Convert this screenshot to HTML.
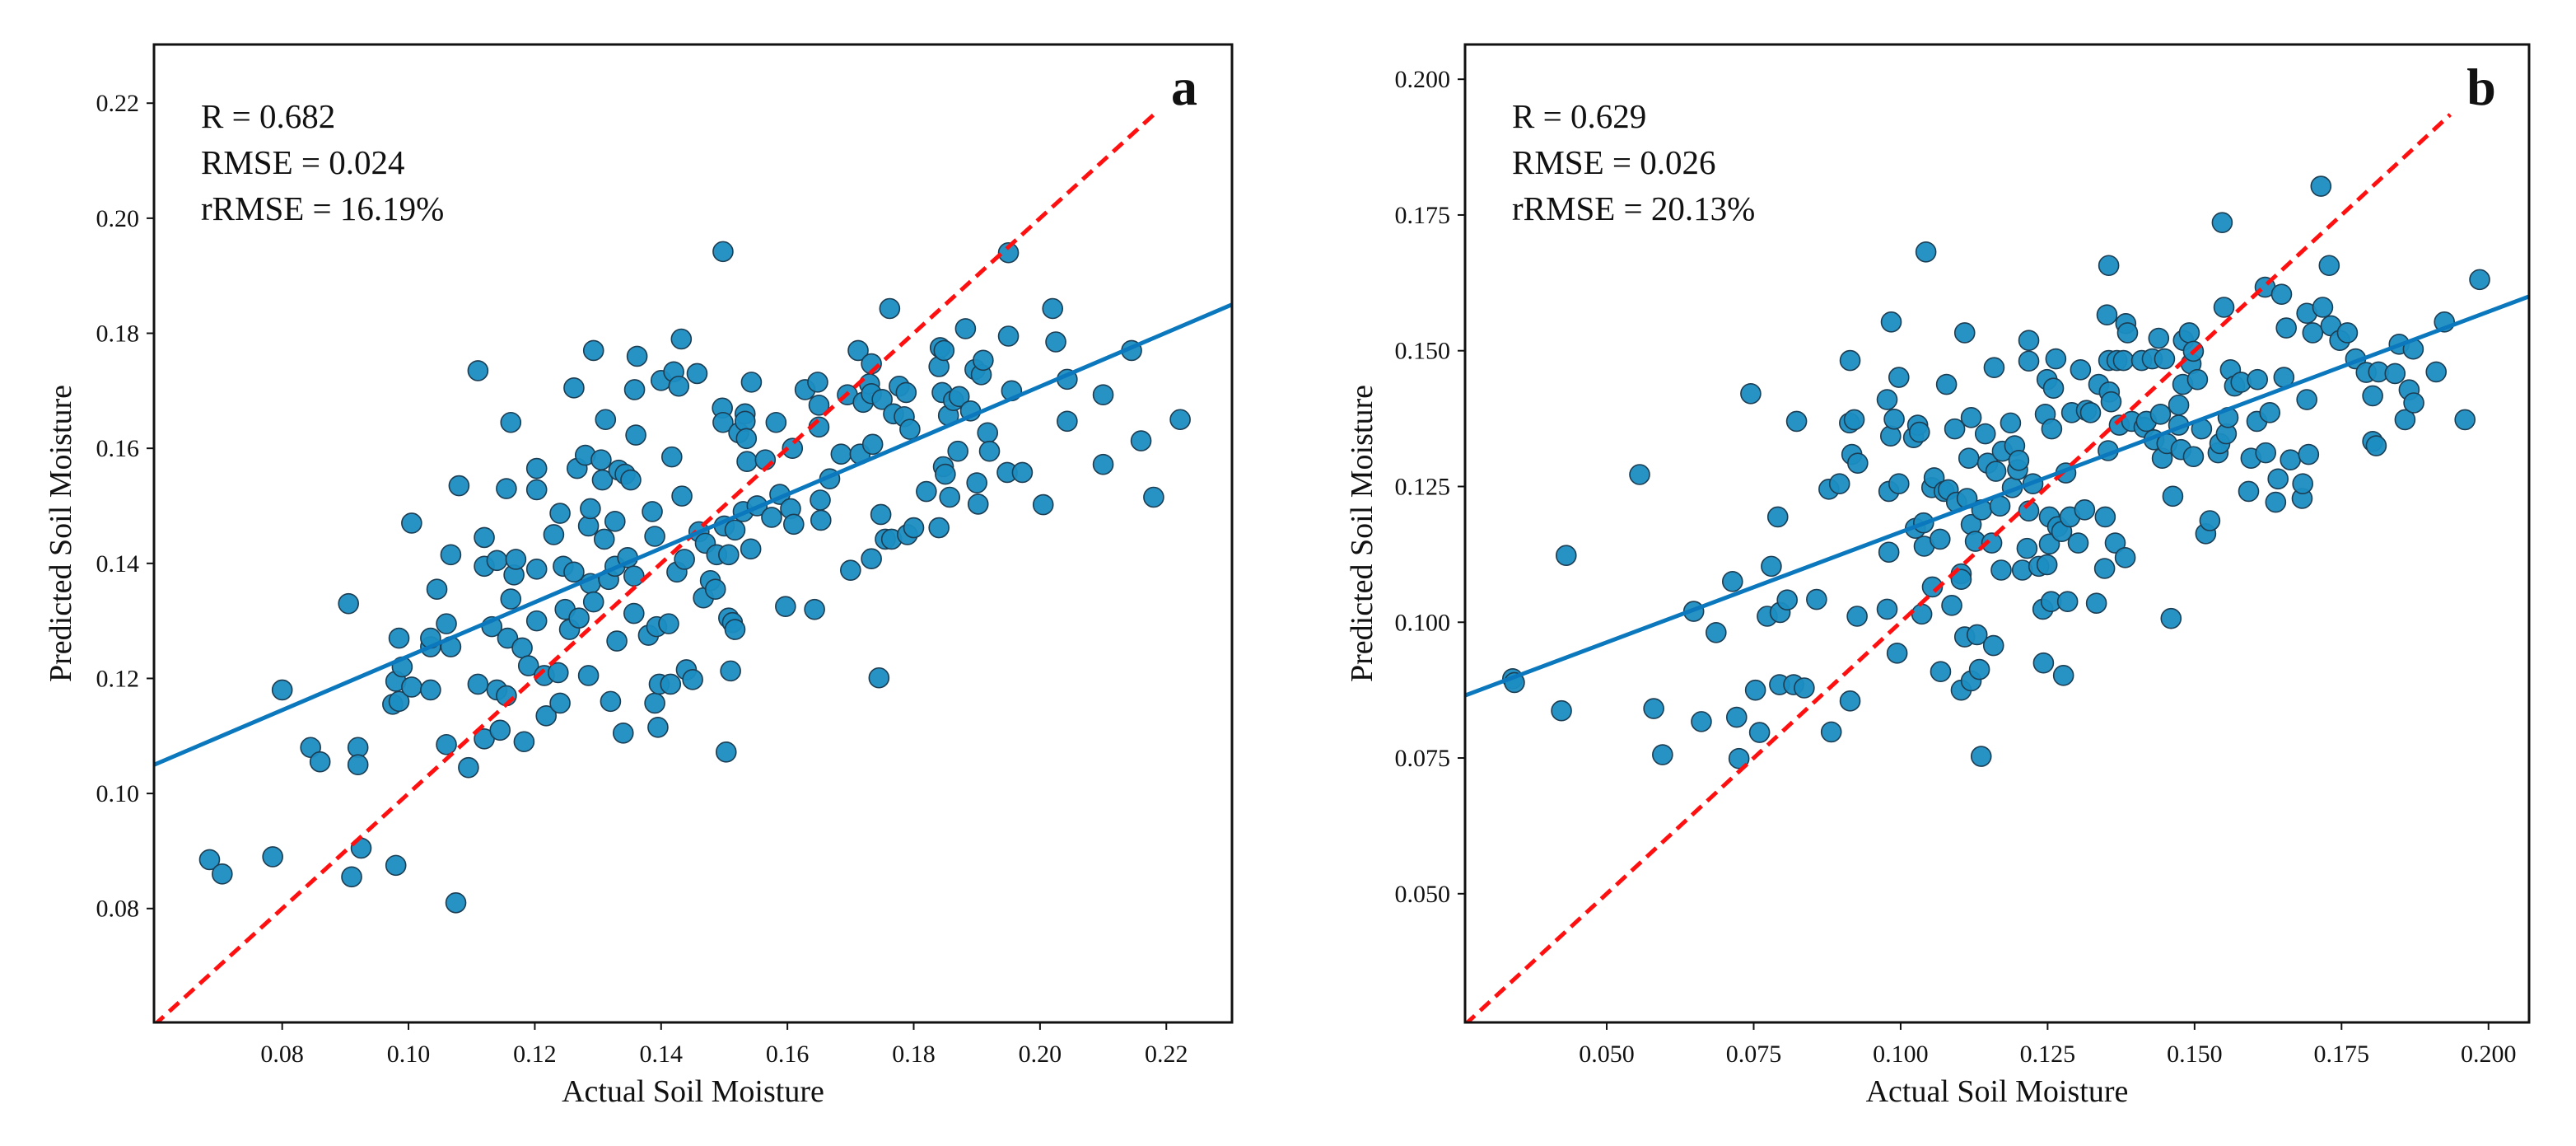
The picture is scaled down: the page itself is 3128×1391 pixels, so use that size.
<!DOCTYPE html>
<html><head><meta charset="utf-8">
<style>
html,body{margin:0;padding:0;background:#fff;}
svg{display:block;}
svg text{font-family:"Liberation Serif","Times New Roman",serif;}
</style></head>
<body>
<svg id="chart" width="3128" height="1391" viewBox="0 0 3128 1391" xmlns="http://www.w3.org/2000/svg" font-family="Liberation Serif, serif"></svg>
<script>
// ---- Panel a data ----
const aActual = [0.0685,0.0705,0.0785,0.080,0.0845,0.086,0.0905,0.091,0.092,0.092,0.0925,0.098,0.098,0.0985,0.099,0.0975,0.0985,0.1005,0.1005,0.1035,0.1035,0.1035,0.1045,0.106,0.106,0.1067,0.1067,0.1075,0.108,0.1095,0.111,0.111,0.112,0.112,0.112,0.1132,0.114,0.114,0.1145,0.1155,0.1155,0.1157,0.1162,0.1162,0.1167,0.117,0.118,0.1183,0.119,0.1203,0.1203,0.1203,0.1203,0.1215,0.1218,0.123,0.1237,0.124,0.124,0.1245,0.1248,0.1255,0.1262,0.1262,0.1267,0.127,0.128,0.1285,0.1285,0.1288,0.1288,0.1293,0.1293,0.1305,0.1307,0.131,0.1312,0.1317,0.132,0.1327,0.1327,0.133,0.1333,0.134,0.1343,0.1347,0.1352,0.1357,0.1357,0.1358,0.136,0.1362,0.138,0.1386,0.139,0.139,0.1393,0.1395,0.1397,0.14,0.1412,0.1415,0.1417,0.142,0.1425,0.1428,0.1432,0.1433,0.1437,0.144,0.145,0.1457,0.146,0.1467,0.147,0.1478,0.1486,0.1488,0.1497,0.1498,0.1498,0.15,0.1503,0.1507,0.1507,0.151,0.1513,0.1517,0.1517,0.1523,0.1533,0.1533,0.1535,0.1536,0.153,0.1542,0.1543,0.1552,0.1565,0.1575,0.1582,0.1588,0.1597,0.1605,0.1608,0.161,0.1628,0.1643,0.1648,0.165,0.165,0.1652,0.1653,0.1667,0.1685,0.1695,0.170,0.1712,0.1715,0.172,0.173,0.1733,0.1733,0.1733,0.1735,0.1745,0.1748,0.175,0.1755,0.1762,0.1765,0.1768,0.1777,0.1785,0.1788,0.179,0.1794,0.18,0.182,0.184,0.184,0.1842,0.1845,0.1847,0.1848,0.185,0.1855,0.1857,0.1863,0.187,0.1872,0.1882,0.189,0.1897,0.19,0.1902,0.1907,0.191,0.1917,0.192,0.1948,0.195,0.195,0.1955,0.1972,0.2005,0.202,0.2025,0.2043,0.2043,0.21,0.21,0.2145,0.216,0.218,0.2222];
const aPredicted = [0.0885,0.086,0.089,0.118,0.108,0.1055,0.133,0.0855,0.108,0.105,0.0905,0.0875,0.1195,0.127,0.122,0.1155,0.116,0.1185,0.147,0.118,0.1255,0.127,0.1355,0.1295,0.1085,0.1415,0.1255,0.081,0.1535,0.1045,0.119,0.1735,0.1095,0.1445,0.1395,0.129,0.118,0.1405,0.111,0.117,0.153,0.127,0.1645,0.1338,0.138,0.1407,0.1253,0.109,0.1222,0.139,0.1528,0.1565,0.13,0.1205,0.1135,0.145,0.121,0.1487,0.1157,0.1395,0.132,0.1285,0.1385,0.1705,0.1565,0.1305,0.1588,0.1465,0.1205,0.1495,0.1365,0.1333,0.177,0.158,0.1545,0.1442,0.165,0.1372,0.116,0.1473,0.1395,0.1265,0.1562,0.1105,0.1555,0.141,0.1545,0.1313,0.1378,0.1702,0.1623,0.176,0.1275,0.149,0.1447,0.1157,0.129,0.1115,0.119,0.1718,0.1295,0.119,0.1585,0.1733,0.1385,0.1708,0.179,0.1517,0.1407,0.1215,0.1198,0.173,0.1455,0.134,0.1435,0.137,0.1355,0.1415,0.167,0.1942,0.1645,0.1465,0.1072,0.1415,0.1305,0.1213,0.1297,0.1285,0.1458,0.1627,0.166,0.1647,0.1617,0.1577,0.149,0.1425,0.1715,0.15,0.158,0.148,0.1645,0.152,0.1325,0.1495,0.16,0.1468,0.1702,0.132,0.1715,0.1675,0.1637,0.151,0.1475,0.1547,0.159,0.1693,0.1388,0.177,0.159,0.168,0.1712,0.1747,0.1695,0.1408,0.1607,0.1201,0.1485,0.1685,0.1442,0.1843,0.1442,0.166,0.1708,0.1655,0.1697,0.145,0.1633,0.1462,0.1525,0.1462,0.1742,0.1775,0.1697,0.1568,0.177,0.1555,0.1657,0.1515,0.1683,0.1595,0.169,0.1808,0.1665,0.1737,0.154,0.1503,0.1728,0.1753,0.1627,0.1595,0.1558,0.194,0.1795,0.17,0.1558,0.1502,0.1843,0.1785,0.172,0.1647,0.1693,0.1572,0.177,0.1613,0.1515,0.165];
const aDomain = [0.0597, 0.2304];
const aYDomain = [0.0602, 0.2302];
const aXTicks = [0.08,0.10,0.12,0.14,0.16,0.18,0.20,0.22];
const aYTicks = [0.08,0.10,0.12,0.14,0.16,0.18,0.20,0.22];
const aFit = [0.4687, 0.077];
const aOneToOne = [0.0597, 0.218];
const aStats = ["R = 0.682","RMSE = 0.024","rRMSE = 16.19%"];

// ---- Panel b data ----
const bActual = [0.034,0.0343,0.0423,0.0431,0.0556,0.058,0.0595,0.0648,0.0661,0.0686,0.0714,0.0721,0.0725,0.0745,0.0753,0.076,0.0773,0.078,0.0791,0.0794,0.0795,0.0807,0.0818,0.0823,0.0836,0.0857,0.0882,0.0878,0.0896,0.0913,0.0914,0.0914,0.0917,0.0921,0.0926,0.0927,0.0977,0.0977,0.098,0.098,0.0983,0.0984,0.0989,0.0994,0.0997,0.0997,0.1022,0.1025,0.1029,0.1032,0.1036,0.1039,0.104,0.1043,0.1053,0.1054,0.1057,0.1067,0.1068,0.1074,0.1078,0.1081,0.1087,0.1092,0.1095,0.1103,0.1103,0.1103,0.1109,0.1109,0.1113,0.1116,0.112,0.112,0.112,0.1127,0.113,0.1134,0.1137,0.1138,0.1144,0.1148,0.1155,0.1158,0.1159,0.1162,0.1169,0.1171,0.1173,0.1187,0.119,0.1194,0.1199,0.1201,0.1207,0.1215,0.1218,0.1218,0.1218,0.1225,0.1235,0.1242,0.1243,0.1246,0.1249,0.1249,0.1253,0.1253,0.1256,0.1257,0.126,0.1264,0.1267,0.1274,0.1277,0.1281,0.1284,0.1288,0.1291,0.1302,0.1306,0.1313,0.1316,0.1323,0.1333,0.1337,0.1347,0.1348,0.1351,0.1353,0.1354,0.1354,0.1355,0.1358,0.1365,0.1368,0.1372,0.1379,0.1382,0.1383,0.1386,0.1393,0.141,0.1414,0.1418,0.1428,0.1431,0.1439,0.1442,0.1445,0.1449,0.1453,0.146,0.1463,0.1473,0.1473,0.1477,0.148,0.1481,0.1491,0.1494,0.1498,0.1498,0.1505,0.1512,0.1519,0.1526,0.154,0.1543,0.1547,0.155,0.1554,0.1557,0.1561,0.1568,0.1579,0.1592,0.1596,0.1606,0.1607,0.162,0.1621,0.1628,0.1638,0.1642,0.1648,0.1652,0.1656,0.1663,0.1683,0.1684,0.1691,0.1694,0.1691,0.1701,0.1715,0.1718,0.1729,0.1732,0.1747,0.176,0.1774,0.1792,0.1803,0.1803,0.1809,0.1813,0.1841,0.1848,0.1858,0.1865,0.1873,0.1872,0.1911,0.1925,0.196,0.1985];
const bPredicted = [0.0896,0.0889,0.0837,0.1123,0.1272,0.0841,0.0756,0.102,0.0817,0.0981,0.1075,0.0825,0.0749,0.1421,0.0875,0.0797,0.1011,0.1103,0.1194,0.0885,0.1018,0.1041,0.0885,0.137,0.0879,0.1042,0.0798,0.1245,0.1255,0.1367,0.1482,0.0855,0.1309,0.1373,0.1011,0.1293,0.141,0.1024,0.1129,0.1241,0.1343,0.1553,0.1374,0.0943,0.1451,0.1255,0.134,0.1173,0.1363,0.135,0.1015,0.1183,0.114,0.1682,0.1248,0.1065,0.1266,0.1153,0.0909,0.1241,0.1438,0.1244,0.1031,0.1356,0.1221,0.1089,0.1079,0.0875,0.1533,0.0973,0.1228,0.1302,0.1377,0.118,0.0892,0.1149,0.0977,0.0913,0.0753,0.1207,0.1347,0.1293,0.1146,0.0957,0.1469,0.1278,0.1214,0.1096,0.1315,0.1367,0.1248,0.1325,0.1281,0.1298,0.1096,0.1136,0.1519,0.1481,0.1205,0.1255,0.1103,0.1024,0.0925,0.1383,0.1447,0.1106,0.1194,0.1144,0.1038,0.1356,0.1431,0.1485,0.1176,0.1167,0.0902,0.1275,0.1038,0.1194,0.1386,0.1146,0.1465,0.1207,0.139,0.1386,0.1035,0.1438,0.1099,0.1194,0.1566,0.1316,0.1482,0.1657,0.1424,0.1406,0.1146,0.1482,0.1363,0.1482,0.1119,0.155,0.1533,0.137,0.1482,0.1359,0.137,0.1485,0.1336,0.1523,0.1383,0.1302,0.1485,0.1329,0.1007,0.1232,0.1363,0.14,0.1318,0.1438,0.1519,0.1533,0.1476,0.1305,0.1499,0.1447,0.1356,0.1163,0.1187,0.1312,0.1329,0.1736,0.158,0.1347,0.1377,0.1465,0.1435,0.1442,0.1241,0.1302,0.137,0.1447,0.1617,0.1312,0.1386,0.1221,0.1264,0.1604,0.1451,0.1542,0.1299,0.1228,0.1255,0.141,0.1309,0.1569,0.1533,0.1803,0.158,0.1657,0.1546,0.1519,0.1533,0.1485,0.146,0.1417,0.1333,0.1325,0.1461,0.1458,0.1512,0.1373,0.1428,0.1404,0.1503,0.1461,0.1553,0.1373,0.1631];
const bDomain = [0.0259, 0.2069];
const bYDomain = [0.0263, 0.2064];
const bXTicks = [0.050,0.075,0.100,0.125,0.150,0.175,0.200];
const bYTicks = [0.050,0.075,0.100,0.125,0.150,0.175,0.200];
const bFit = [0.406, 0.076];
const bOneToOne = [0.0259, 0.1935];
const bStats = ["R = 0.629","RMSE = 0.026","rRMSE = 20.13%"];

const NS = "http://www.w3.org/2000/svg";
const svg = document.getElementById('chart');
const SERIF = '"Liberation Serif", "Times New Roman", serif';
function mk(tag, attrs, parent){
  const e = document.createElementNS(NS, tag);
  for (const k in attrs) e.setAttribute(k, attrs[k]);
  if (tag === 'text') e.setAttribute('font-family', SERIF);
  (parent||svg).appendChild(e);
  return e;
}

function panel(cfg){
  const {left,right,top,bottom,xd,yd,xt,yt,xs,ys,fit,one,stats,letter,decimals,id,ytitleX} = cfg;
  const g = mk('g', {});
  
  
  const sx = v => left + (v - xd[0]) / (xd[1] - xd[0]) * (right - left);
  const sy = v => bottom - (v - yd[0]) / (yd[1] - yd[0]) * (bottom - top);
  const clip = mk('clipPath', {id:'clip-'+id}, g);
  mk('rect', {x:left, y:top, width:right-left, height:bottom-top}, clip);
  const plot = mk('g', {'clip-path':'url(#clip-'+id+')'}, g);
  for (let i=0;i<xs.length;i++){
    const c = mk('circle', {cx:sx(xs[i]), cy:sy(ys[i]), r:12, fill:'#1b8dc2', 'fill-opacity':'0.95', stroke:'#1c3d52', 'stroke-width':'1.6'}, plot);
    
    
  }
  const rl = mk('line', {x1:sx(one[0]), y1:sy(one[0]), x2:sx(one[1]), y2:sy(one[1]), stroke:'#ff1010', 'stroke-width':5, 'stroke-dasharray':'16,9'}, plot);
  
  
  const bl = mk('line', {x1:sx(xd[0]), y1:sy(fit[0]*xd[0]+fit[1]), x2:sx(xd[1]), y2:sy(fit[0]*xd[1]+fit[1]), stroke:'#0b78bd', 'stroke-width':5}, plot);
  
  
  const fr = mk('rect', {x:left, y:top, width:right-left, height:bottom-top, fill:'none', stroke:'#111', 'stroke-width':3}, g);
  
  
  xt.forEach(v=>{
    const x = sx(v);
    mk('line', {x1:x, y1:bottom, x2:x, y2:bottom+9, stroke:'#111', 'stroke-width':2}, g);
    const t = mk('text', {x:x, y:bottom+48, 'font-size':30, 'text-anchor':'middle', fill:'#111'}, g);
    t.textContent = v.toFixed(decimals);
    
    
  });
  yt.forEach(v=>{
    const y = sy(v);
    mk('line', {x1:left-9, y1:y, x2:left, y2:y, stroke:'#111', 'stroke-width':2}, g);
    const t = mk('text', {x:left-18, y:y+10, 'font-size':30, 'text-anchor':'end', fill:'#111'}, g);
    t.textContent = v.toFixed(decimals);
    
    
  });
  const xtitle = mk('text', {x:(left+right)/2, y:1337, 'font-size':38, 'text-anchor':'middle', fill:'#111'}, g);
  xtitle.textContent = 'Actual Soil Moisture';
  
  
  const ytitle = mk('text', {x:0, y:0, 'font-size':38, 'text-anchor':'middle', fill:'#111', transform:'translate('+ytitleX+','+((top+bottom)/2)+') rotate(-90)'}, g);
  ytitle.textContent = 'Predicted Soil Moisture';
  
  
  stats.forEach((s,i)=>{
    const t = mk('text', {x:left+57, y:155+i*56, 'font-size':41, fill:'#111'}, g);
    t.textContent = s;
    
    
  });
  const L = mk('text', {x:right-58, y:127, 'font-size':64, 'font-weight':'bold', 'text-anchor':'middle', fill:'#111'}, g);
  L.textContent = letter;
  
  
}

panel({id:'a', left:187, right:1496, top:54, bottom:1241, xd:aDomain, yd:aYDomain, xt:aXTicks, yt:aYTicks, xs:aActual, ys:aPredicted, fit:aFit, one:aOneToOne, stats:aStats, letter:'a', decimals:2, ytitleX:86});
panel({id:'b', left:1779, right:3071, top:54, bottom:1241, xd:bDomain, yd:bYDomain, xt:bXTicks, yt:bYTicks, xs:bActual, ys:bPredicted, fit:bFit, one:bOneToOne, stats:bStats, letter:'b', decimals:3, ytitleX:1666});
</script>
</body></html>
